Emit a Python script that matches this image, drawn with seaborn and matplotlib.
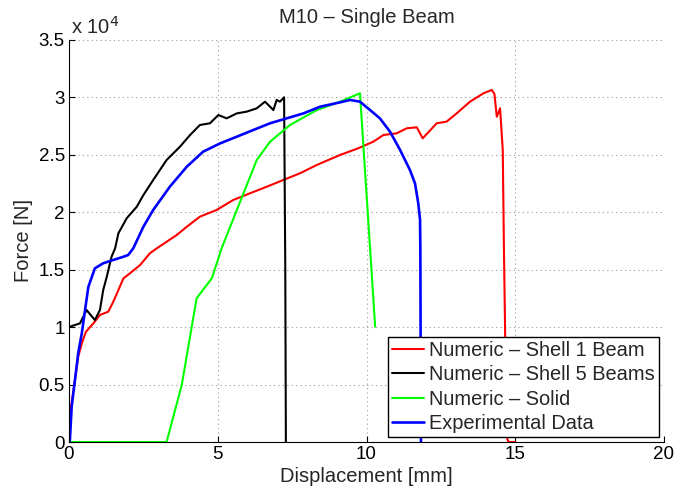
import numpy as np
import pandas as pd
import matplotlib
matplotlib.use("Agg")
import matplotlib.pyplot as plt
import seaborn as sns
from matplotlib.ticker import FuncFormatter, MultipleLocator

# ---- data (displacement mm, force N) ----
red_x = [0.0, 0.03, 0.20, 0.31, 0.43, 0.57, 0.82, 1.04, 1.32, 1.49, 1.66, 1.83, 2.05, 2.39, 2.72, 2.95,
         3.62, 3.96, 4.40, 4.96, 5.52, 6.08, 6.65, 7.20, 7.76, 8.33, 9.11, 9.70, 10.23, 10.57, 11.01,
         11.35, 11.69, 11.89, 12.36, 12.69, 13.03, 13.48, 13.93, 14.21, 14.30, 14.38, 14.49, 14.58,
         14.62, 14.71, 14.77, 15.0]
red_y = [1900, 2350, 5400, 7430, 8590, 9600, 10330, 11060, 11350, 12220, 13230, 14250, 14690, 15410,
         16430, 16860, 18020, 18740, 19620, 20200, 21070, 21650, 22230, 22810, 23390, 24120, 24990,
         25550, 26150, 26730, 26870, 27310, 27400, 26440, 27750, 27890, 28610, 29630, 30360, 30650,
         30300, 28320, 29050, 25420, 16720, 460, 0, 0]

black_x = [0.0, 0.03, 0.37, 0.59, 0.87, 1.04, 1.15, 1.27, 1.43, 1.55, 1.66, 1.94, 2.28, 2.50, 2.83,
           3.28, 3.73, 4.07, 4.40, 4.74, 5.02, 5.30, 5.64, 5.97, 6.31, 6.59, 6.87, 6.98, 7.09, 7.23,
           7.27, 7.29]
black_y = [10000, 10040, 10330, 11490, 10620, 11490, 13230, 14390, 16130, 16860, 18170, 19480,
           20490, 21500, 22810, 24550, 25710, 26730, 27600, 27750, 28470, 28180, 28610, 28760,
           29050, 29630, 28900, 29780, 29630, 30010, 15000, 0]

green_x = [0.0, 3.28, 3.79, 4.29, 4.80, 5.13, 6.31, 6.76, 7.43, 8.33, 9.11, 9.78, 9.89, 10.12, 10.29]
green_y = [0, 0, 4960, 12510, 14250, 16860, 24550, 26150, 27600, 28900, 29630, 30360, 26000,
           16860, 10040]

blue_x = [0.0, 0.03, 0.09, 0.20, 0.31, 0.43, 0.54, 0.65, 0.87, 1.15, 1.49, 1.83, 1.99, 2.16, 2.50,
          2.83, 3.39, 3.96, 4.51, 5.08, 5.64, 6.19, 6.76, 7.32, 7.88, 8.44, 9.11, 9.45, 9.78,
          10.12, 10.45, 10.79, 11.13, 11.46, 11.63, 11.74, 11.80, 11.81, 11.83]
blue_y = [0, 170, 3080, 5400, 7750, 9460, 11490, 13500, 15120, 15560, 15850, 16130, 16280, 16860,
          18740, 20200, 22230, 23970, 25280, 26000, 26580, 27160, 27750, 28180, 28610, 29190,
          29570, 29780, 29630, 28900, 28180, 27020, 25420, 23680, 22520, 20780, 19330, 16720, 0]

labels = ["Numeric \u2013 Shell 1 Beam", "Numeric \u2013 Shell 5 Beams",
          "Numeric \u2013 Solid", "Experimental Data"]
colors = ["#ff0000", "#000000", "#00ff00", "#0000ff"]

frames = []
for lab, xs, ys in zip(labels, [red_x, black_x, green_x, blue_x], [red_y, black_y, green_y, blue_y]):
    frames.append(pd.DataFrame({"x": xs, "y": ys, "series": lab, "order": np.arange(len(xs))}))
df = pd.concat(frames, ignore_index=True)

sns.set_style("white")
plt.rcParams["font.family"] = ["Liberation Sans", "DejaVu Sans"]

fig = plt.figure(figsize=(6.78, 4.94), dpi=100)
ax = fig.add_axes([69/678, 52/494, 595/678, 402/494])

widths = [1.5, 1.5, 1.5, 1.9]
for lab, col, lw in zip(labels, colors, widths):
    sub = df[df["series"] == lab]
    sns.lineplot(data=sub, x="x", y="y", sort=False, estimator=None, color=col,
                 linewidth=lw, ax=ax, label=lab)

ax.set_xlim(0, 20)
ax.set_ylim(0, 35000)
ax.xaxis.set_major_locator(MultipleLocator(5))
ax.yaxis.set_major_locator(MultipleLocator(5000))
ax.yaxis.set_major_formatter(FuncFormatter(lambda v, p: f"{v/1e4:g}"))
ax.grid(True, color="#9a9a9a", linestyle=(0, (1, 3)), linewidth=0.8)
for s in ["top", "right"]:
    ax.spines[s].set_visible(False)
for s in ["left", "bottom"]:
    ax.spines[s].set_color("black")
    ax.spines[s].set_linewidth(0.8)
ax.tick_params(direction="in", length=4, width=0.8, labelsize=13.5, colors="black", pad=3,
               left=True, bottom=True)

ax.set_xlabel("Displacement [mm]", fontsize=14.5, labelpad=3)
ax.set_ylabel("Force [N]", fontsize=14.5, labelpad=4)
ax.set_title("M10 \u2013 Single Beam", fontsize=14.5, pad=12)
ax.text(0.003, 1.005, r"x 10$^{4}$", transform=ax.transAxes, fontsize=14.5, ha="left", va="bottom")

leg = ax.legend(loc="lower right", fontsize=14.4, frameon=True, fancybox=False, framealpha=1,
                edgecolor="black", handlelength=1.6, handletextpad=0.25, labelspacing=0.27,
                borderpad=0.2, borderaxespad=0.25)
leg.get_frame().set_linewidth(1.0)

fig.savefig("out.png", dpi=100)
